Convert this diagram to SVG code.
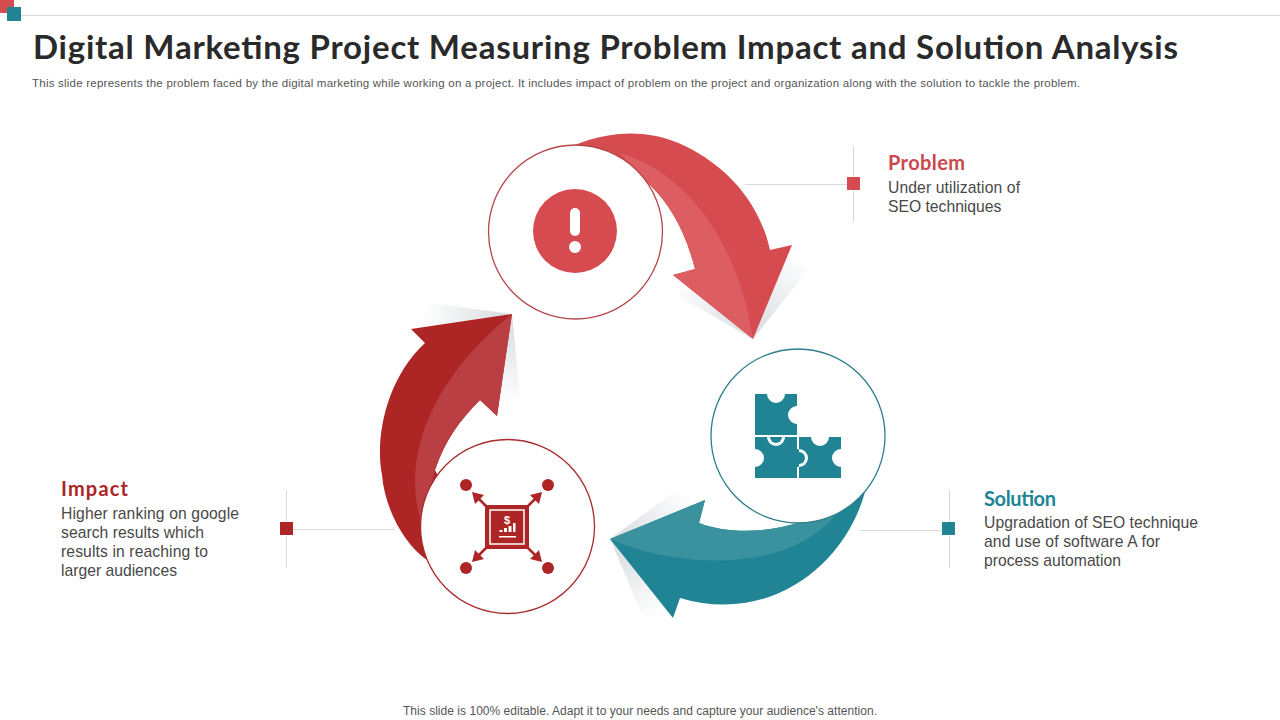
<svg xmlns="http://www.w3.org/2000/svg" width="1280" height="720" viewBox="0 0 1280 720">
<style>
.title{font-family:"Lato","Liberation Sans",sans-serif;font-weight:700;font-size:33px;fill:#2a2a2a}
.sub{font-family:"Liberation Sans",Arial,sans-serif;font-size:11.5px;fill:#555}
.head{font-family:"Lato","Liberation Sans",sans-serif;font-weight:700;font-size:20px}
.body{font-family:"Liberation Sans",Arial,sans-serif;font-size:15.7px;fill:#484848}
.lead{stroke:#d9d9d9;stroke-width:1;fill:none}
.disc{fill:#fff;stroke-width:1.3}
</style>
<defs>
<radialGradient id="sr" gradientUnits="userSpaceOnUse" cx="753" cy="339" r="95"><stop offset="0" stop-color="#c4cbd0" stop-opacity=".7"/><stop offset="1" stop-color="#c4cbd0" stop-opacity="0"/></radialGradient>
<radialGradient id="sd" gradientUnits="userSpaceOnUse" cx="512" cy="314" r="90"><stop offset="0" stop-color="#c4cbd0" stop-opacity=".7"/><stop offset="1" stop-color="#c4cbd0" stop-opacity="0"/></radialGradient>
<radialGradient id="st" gradientUnits="userSpaceOnUse" cx="610" cy="539" r="90"><stop offset="0" stop-color="#c4cbd0" stop-opacity=".7"/><stop offset="1" stop-color="#c4cbd0" stop-opacity="0"/></radialGradient>
</defs>
<rect width="1280" height="720" fill="#fff"/>
<g id="header">
<line x1="20" y1="15.5" x2="1280" y2="15.500" stroke="#d9d9d9"/>
<rect x="0" y="0" width="14" height="13" fill="#d64b4f"/>
<rect x="7" y="7" width="14" height="14" fill="#208494"/>
<text class="title" x="33" y="59" textLength="1145" lengthAdjust="spacing">Digital Marketing Project Measuring Problem Impact and Solution Analysis</text>
<text class="sub" x="32" y="87" textLength="1048" lengthAdjust="spacing">This slide represents the problem faced by the digital marketing while working on a project. It includes impact of problem on the project and organization along with the solution to tackle the problem.</text>
</g>
<g id="connectors">
<path class="lead" d="M745,184.500H853M853.500,146V222"/>
<path class="lead" d="M860,530.500H949M949.500,490V568"/>
<path class="lead" d="M286,529.500H395M286.500,490V568"/>
<rect x="847" y="177" width="13" height="13" fill="#d64b4f"/>
<rect x="942" y="522" width="13" height="13" fill="#208494"/>
<rect x="280" y="522" width="13" height="13" fill="#ae2525"/>
<g id="arrow-problem-solution">
<path d="M753,339L808,270L792,245Z" fill="url(#sr)"/>
<path d="M753,339L673,275L680,297Z" fill="url(#sr)"/>
<path d="M575,145C612,130 650,129 685,146C730,168 760,205 770,250L792,245L753,339L673,275L695,269C685,230 670,205 650,185L600,150Z" fill="#d64b4f"/>
<path d="M620,153C685,172 738,240 753,339L673,275L695,269C685,230 670,205 650,185Z" fill="#dc5e62"/>
</g>
<g id="arrow-solution-impact">
<path d="M610,539L673,493L705,500Z" fill="url(#st)"/>
<path d="M610,539L643,617L673,618Z" fill="url(#st)"/>
<path d="M865,492C845,565 770,625 680,598L673,618L610,539L705,500L699,523C730,535 770,532 800,522Z" fill="#208494"/>
<path d="M610,539L705,500L699,523C730,535 770,532 800,522L835,515C790,572 680,570 610,539Z" fill="#3a929f"/>
</g>
<g id="arrow-impact-problem">
<path d="M512,314L430,303L411,329Z" fill="url(#sd)"/>
<path d="M512,314L520,395L497,416Z" fill="url(#sd)"/>
<path d="M512,314L411,329L425,343C385,380 375,440 382,475C385,510 405,545 427,560L450,500L435,470C445,440 460,420 480,400L497,416Z" fill="#ae2525"/>
<path d="M512,314L497,416L480,400C460,420 445,440 435,470L422,525C400,460 430,380 512,314Z" fill="#b93f42"/>
</g>
</g>
<g id="node-problem">
<circle class="disc" cx="575.500" cy="232" r="87" stroke="#b5474b"/>
<circle cx="575" cy="231" r="42" fill="#d64b4f"/>
<rect x="570" y="208" width="10" height="28" rx="5" fill="#fff"/>
<circle cx="575" cy="247" r="6" fill="#fff"/>
<text class="head" x="888" y="170" fill="#c9484e" textLength="77" lengthAdjust="spacing">Problem</text>
<text class="body" x="888" y="193" textLength="132" lengthAdjust="spacing">Under utilization of</text>
<text class="body" x="888" y="212">SEO techniques</text>
</g>
<g id="node-solution">
<circle class="disc" cx="798" cy="436" r="87" stroke="#2c7e8a"/>
<path d="M755,394H767A9,9 0 0 0 785,394H797V406A9,9 0 0 0 797,424V435H755Z" fill="#208494"/>
<path d="M755,437H797V449A9,9 0 0 1 797,467V478H755V467A9,9 0 0 0 755,449Z" fill="#208494"/>
<path d="M799,437H811A9,9 0 0 0 829,437H841V449A9,9 0 0 0 841,467V478H799Z" fill="#208494"/>
<path d="M767,437A9,9 0 0 0 785,437" fill="#fff"/>
<path d="M770,437A6,6 0 0 0 782,437Z" fill="#208494"/>
<path d="M799,449A9,9 0 0 1 799,467Z" fill="#fff"/>
<path d="M799,452A6,6 0 0 1 799,464Z" fill="#208494"/>
<text class="head" x="984" y="506" fill="#208494" textLength="72" lengthAdjust="spacing">Solution</text>
<text class="body" x="984" y="528" textLength="214" lengthAdjust="spacing">Upgradation of SEO technique</text>
<text class="body" x="984" y="547" textLength="176" lengthAdjust="spacing">and use of software A for</text>
<text class="body" x="984" y="566">process automation</text>
</g>
<g id="node-impact">
<circle class="disc" cx="507.500" cy="526.500" r="87" stroke="#a82a2d"/>
<rect x="485" y="505" width="44" height="44" fill="#ae2525"/>
<rect x="490" y="510" width="34" height="34" fill="#ae2525" stroke="#fff" stroke-width="1.500"/>
<path d="M487,507L474,494M527,507L540,494M487,547L474,560M527,547L540,560" stroke="#ae2525" stroke-width="2.500"/>
<path d="M472,492L484,495L475,504ZM542,492L530,495L539,504ZM472,562L484,559L475,550ZM542,562L530,559L539,550Z" fill="#ae2525"/>
<circle cx="466" cy="485" r="6" fill="#ae2525"/>
<circle cx="548" cy="485" r="6" fill="#ae2525"/>
<circle cx="466" cy="568" r="6" fill="#ae2525"/>
<circle cx="548" cy="568" r="6" fill="#ae2525"/>
<text x="507" y="524" text-anchor="middle" font-family="Liberation Sans,Arial,sans-serif" font-weight="700" font-size="11" fill="#fff">$</text>
<path d="M499.500,530h3v2h-3zM504,528h3v4h-3zM508.500,526h3v6h-3zM513,523h2.500v9h-2.500zM499,536h17v1.500h-17z" fill="#fff"/>
<text class="head" x="61" y="496" fill="#ae2525" textLength="67" lengthAdjust="spacing">Impact</text>
<text class="body" x="61" y="519" textLength="178" lengthAdjust="spacing">Higher ranking on google</text>
<text class="body" x="61" y="538" textLength="143" lengthAdjust="spacing">search results which</text>
<text class="body" x="61" y="557" textLength="147" lengthAdjust="spacing">results in reaching to</text>
<text class="body" x="61" y="576">larger audiences</text>
</g>
<text id="footer" x="640" y="715" text-anchor="middle" font-family="Liberation Sans,Arial,sans-serif" font-size="12" textLength="474" lengthAdjust="spacing" fill="#555">This slide is 100% editable. Adapt it to your needs and capture your audience's attention.</text>
</svg>
